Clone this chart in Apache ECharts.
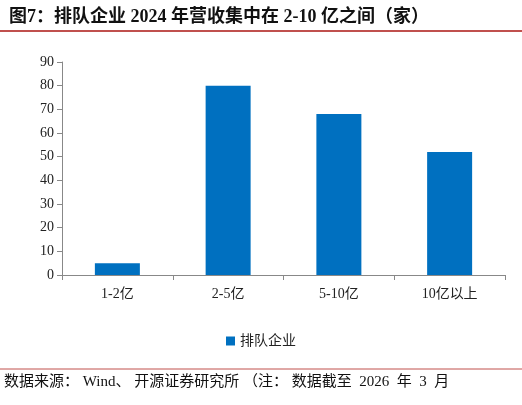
<!DOCTYPE html>
<html><head><meta charset="utf-8">
<script src="https://cdn.jsdelivr.net/npm/echarts@6/dist/echarts.min.js"></script>
<style>body{margin:0}#c{width:522px;height:405px}</style></head>
<body><div id="c"></div>
<script>
const categories = ['1-2亿','2-5亿','5-10亿','10亿以上'];
const values = [5, 80, 68, 52];
const yTicks = [0, 90, 10];
const font = '"Liberation Serif","Noto Sans CJK SC",serif';
const chart = echarts.init(document.getElementById('c'));
chart.setOption({
  animation:false,
  title:{text:'图7：排队企业 2024 年营收集中在 2-10 亿之间（家）',left:4,top:3,
    textStyle:{fontFamily:font,fontSize:18,fontWeight:'bold',color:'#111'}},
  graphic:[
    {type:'line',shape:{x1:0,y1:31,x2:522,y2:31},style:{stroke:'#c0504d',lineWidth:2}},
    {type:'line',shape:{x1:0,y1:369,x2:522,y2:369},style:{stroke:'#c0504d',lineWidth:1}},
    {type:'text',left:4,top:375,style:{text:'数据来源： Wind、 开源证券研究所 （注： 数据截至  2026  年  3  月',font:'15px '+font,fill:'#111'}}
  ],
  legend:{data:['排队企业'],top:329,left:'center',itemWidth:9,itemHeight:9,icon:'rect',
    textStyle:{fontFamily:font,fontSize:14,color:'#222'}},
  grid:{left:62,right:17,top:62,bottom:130},
  xAxis:{type:'category',data:categories,
    axisLine:{lineStyle:{color:'#888'}},axisTick:{show:true,alignWithLabel:false,lineStyle:{color:'#888'}},
    axisLabel:{fontFamily:font,fontSize:14,color:'#222',margin:12}},
  yAxis:{type:'value',min:yTicks[0],max:yTicks[1],interval:yTicks[2],
    splitLine:{show:false},axisLine:{show:true,lineStyle:{color:'#888'}},
    axisTick:{show:true,lineStyle:{color:'#888'}},
    axisLabel:{fontFamily:font,fontSize:14,color:'#222'}},
  series:[{name:'排队企业',type:'bar',data:values,barWidth:45,itemStyle:{color:'#0070c0'}}]
});
</script></body></html>
